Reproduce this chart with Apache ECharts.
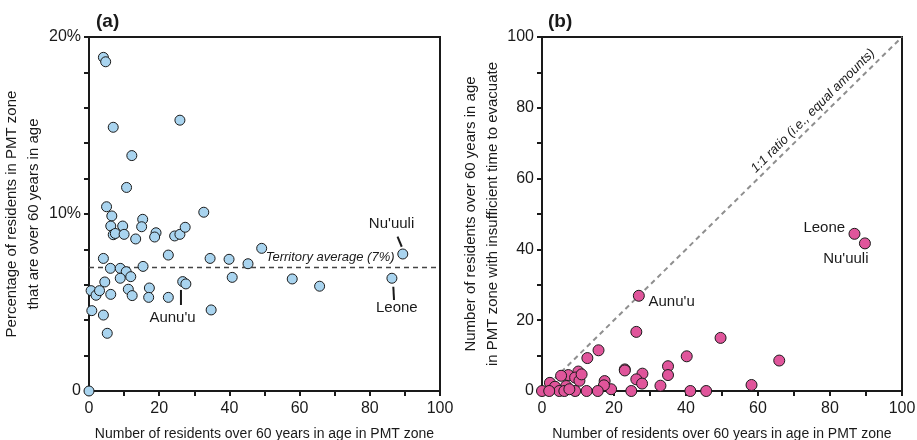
<!DOCTYPE html>
<html>
<head>
<meta charset="utf-8">
<script src="https://cdn.jsdelivr.net/npm/echarts@6/dist/echarts.min.js"></script>
<style>
  html, body { margin: 0; padding: 0; background: #fff; }
  #chart { width: 917px; height: 440px; }
</style>
</head>
<body>
<div id="chart"></div>
<script>
// panel (a): residents over 60 vs share of PMT zone population (%)
const ageX = [4.1, 4.75, 6.9, 25.9, 12.2, 10.7,
  5.0, 6.5, 6.2, 6.9, 7.5, 9.6, 10.0, 13.3, 15.3, 15.0, 19.1, 18.7, 24.4, 25.9, 27.4, 32.7, 49.2,
  4.1, 22.6, 34.5, 39.9, 45.3,
  6.1, 8.9, 10.6, 15.4,
  4.5, 8.9, 11.9, 40.8,
  0.6, 2.0, 3.0, 6.2, 11.2, 12.3, 17.2, 17.0, 22.6, 26.7, 27.6,
  34.8, 0.8, 4.1, 5.2, 0,
  57.9, 65.7, 86.3, 89.4];
const agePct = [18.85, 18.6, 14.9, 15.3, 13.3, 11.5,
  10.41, 9.89, 9.32, 8.83, 8.9, 9.32, 8.85, 8.59, 9.70, 9.28, 8.94, 8.70, 8.76, 8.85, 9.25, 10.10, 8.06,
  7.49, 7.68, 7.49, 7.44, 7.19,
  6.93, 6.93, 6.74, 7.04,
  6.16, 6.37, 6.46, 6.42,
  5.67, 5.41, 5.67, 5.46, 5.75, 5.39, 5.82, 5.29, 5.29, 6.18, 6.05,
  4.58, 4.54, 4.29, 3.26, 0,
  6.33, 5.92, 6.37, 7.74];
const territoryAvg = 7;

// panel (b): residents over 60 vs those with insufficient time to evacuate
const evacX = [26.9, 26.2, 49.6, 15.7, 12.6, 40.2, 23.0, 23.0, 27.9, 26.2, 27.8, 35.0, 35.0, 32.9,
  41.2, 45.6, 24.8, 19.2, 17.4, 17.2, 15.5, 12.4, 10.1, 7.3, 5.3, 9.2, 10.4, 11.0,
  2.2, 3.6, 6.7, 0, 4.8, 6.2, 9.2, 2.0, 7.6,
  86.8, 89.7, 65.9, 58.2];
const evacY = [26.9, 16.7, 15.0, 11.5, 9.3, 9.8, 6.1, 5.8, 4.9, 3.3, 2.1, 7.0, 4.5, 1.5,
  0, 0, 0, 0.5, 2.8, 1.6, 0, 0, 5.5, 4.5, 4.3, 3.8, 2.9, 4.7,
  2.3, 1.2, 1.4, 0, 0, 0, 0, 0, 0.5,
  44.4, 41.7, 8.6, 1.7];
const ratioLine = [0, 100];

const xTicks = [0, 20, 40, 60, 80, 100];
const pctTicks = [0, 10, 20];

// text annotations: [grid, x, y, text]
const notes = [
  [0, 68.7, 7.55, 'Territory average (7%)'],
  [0, 86.2, 9.47, "Nu'uuli"],
  [0, 87.7, 4.67, 'Leone'],
  [0, 23.8, 4.16, "Aunu'u"],
  [1, 36.0, 25.1, "Aunu'u"],
  [1, 78.4, 46.0, 'Leone'],
  [1, 84.4, 37.2, "Nu'uuli"]
];
// leader lines: [grid, x1, y1, x2, y2]
const leaders = [
  [0, 87.9, 8.72, 89.1, 8.15],
  [0, 86.7, 5.89, 86.9, 5.14],
  [0, 26.2, 5.71, 26.2, 4.86]
];

const FONT = '"Liberation Sans", Arial, sans-serif';
const INK = '#1a1a1a';

const chart = echarts.init(document.getElementById('chart'));

const axisBase = {
  type: 'value',
  min: 0,
  max: 100,
  interval: 10,
  splitLine: { show: false },
  axisLine: { lineStyle: { color: INK, width: 2 } },
  axisTick: { length: 5, lineStyle: { color: INK, width: 2 } },
  axisLabel: { color: INK, fontFamily: FONT, fontSize: 16, margin: 8 },
  nameLocation: 'middle',
  nameTextStyle: { color: INK, fontFamily: FONT, fontSize: 14, lineHeight: 20 }
};

const xName = 'Number of residents over 60 years in age in PMT zone';
const yNameStyle = { color: INK, fontFamily: FONT, fontSize: 15, lineHeight: 22 };

chart.setOption({
  animation: false,
  title: [
    { text: '(a)', left: 91, top: 7, textStyle: { fontFamily: FONT, fontWeight: 'bold', fontSize: 19, color: INK } },
    { text: '(b)', left: 543, top: 7, textStyle: { fontFamily: FONT, fontWeight: 'bold', fontSize: 19, color: INK } }
  ],
  grid: [
    { left: 89, top: 37, width: 351, height: 354, show: true, borderColor: INK, borderWidth: 2, backgroundColor: 'transparent', outerBoundsMode: 'none' },
    { left: 542, top: 37, width: 360, height: 354, show: true, borderColor: INK, borderWidth: 2, backgroundColor: 'transparent', outerBoundsMode: 'none' }
  ],
  xAxis: [
    Object.assign({}, axisBase, {
      gridIndex: 0, name: xName, nameGap: 33,
      axisLabel: Object.assign({}, axisBase.axisLabel, { margin: 10, formatter: v => xTicks.includes(v) ? String(v) : '' })
    }),
    Object.assign({}, axisBase, {
      gridIndex: 1, name: xName, nameGap: 33,
      axisLabel: Object.assign({}, axisBase.axisLabel, { margin: 10, formatter: v => xTicks.includes(v) ? String(v) : '' })
    })
  ],
  yAxis: [
    Object.assign({}, axisBase, {
      gridIndex: 0, max: 20, interval: 2, nameGap: 36, nameTextStyle: yNameStyle,
      name: 'Percentage of residents in PMT zone\nthat are over 60 years in age',
      axisLabel: Object.assign({}, axisBase.axisLabel, {
        formatter: v => pctTicks.includes(v) ? (v === 0 ? '0' : v + '%') : ''
      })
    }),
    Object.assign({}, axisBase, {
      gridIndex: 1, nameGap: 38, nameTextStyle: yNameStyle,
      name: 'Number of residents over 60 years in age\nin PMT zone with insufficient time to evacuate',
      axisLabel: Object.assign({}, axisBase.axisLabel, { formatter: v => xTicks.includes(v) ? String(v) : '' })
    })
  ],
  series: [
    {
      type: 'scatter', xAxisIndex: 0, yAxisIndex: 0,
      data: ageX.map((x, i) => [x, agePct[i]]),
      symbolSize: 10,
      itemStyle: { color: '#a9d4ef', borderColor: INK, borderWidth: 1, opacity: 1 },
      z: 5,
      markLine: {
        silent: true, symbol: 'none', label: { show: false },
        lineStyle: { color: '#444', type: [5, 4], width: 1.3 },
        data: [{ yAxis: territoryAvg }]
      }
    },
    {
      type: 'scatter', xAxisIndex: 1, yAxisIndex: 1,
      data: evacX.map((x, i) => [x, evacY[i]]),
      symbolSize: 11,
      itemStyle: { color: '#e0559b', borderColor: INK, borderWidth: 1, opacity: 1 },
      z: 5
    },
    {
      type: 'line', xAxisIndex: 1, yAxisIndex: 1,
      data: ratioLine.map(v => [v, v]),
      symbol: 'none', silent: true, z: 2,
      lineStyle: { color: '#8f8f8f', type: [5, 4], width: 2 }
    }
  ]
});

// annotations placed in data space
const px = (g, x, y) => chart.convertToPixel({ gridIndex: g }, [x, y]);
const graphics = [];
notes.forEach(([g, x, y, text], i) => {
  const p = px(g, x, y);
  const italic = i === 0;
  graphics.push({
    type: 'text', x: p[0], y: p[1], z: 10,
    style: {
      text, fill: INK, align: 'center', verticalAlign: 'middle',
      font: (italic ? 'italic 13px ' : '15px ') + FONT
    }
  });
});
leaders.forEach(([g, x1, y1, x2, y2]) => {
  const a = px(g, x1, y1), b = px(g, x2, y2);
  graphics.push({
    type: 'line', z: 10,
    shape: { x1: a[0], y1: a[1], x2: b[0], y2: b[1] },
    style: { stroke: INK, lineWidth: 2 }
  });
});
// 1:1 ratio label, rotated along the diagonal
const rp = px(1, 75.3, 79.1);
graphics.push({
  type: 'text', x: rp[0], y: rp[1], rotation: Math.PI / 4, z: 10,
  style: { text: '1:1 ratio (i.e., equal amounts)', fill: INK, align: 'center', verticalAlign: 'middle', font: 'italic 13px ' + FONT }
});
chart.setOption({ graphic: graphics });
</script>
</body>
</html>
